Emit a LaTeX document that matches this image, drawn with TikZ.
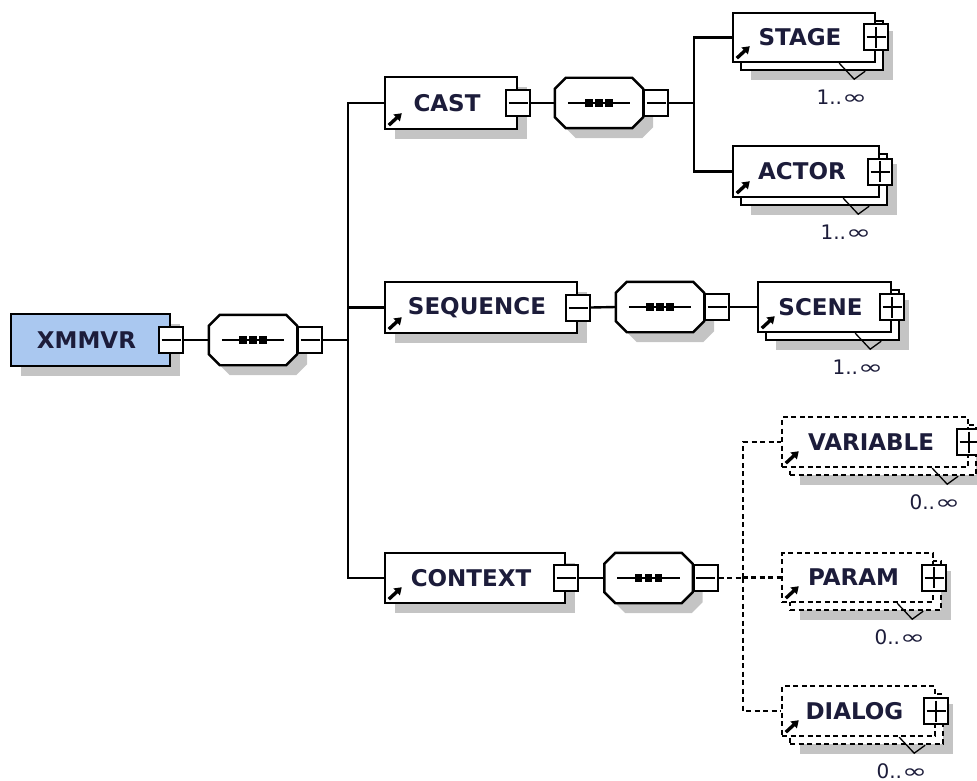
\documentclass[tikz,border=0pt]{standalone}
\usepackage{fontspec}
\setmainfont{DejaVu Sans}
\usetikzlibrary{shadows,arrows.meta,calc}

\definecolor{rootfill}{RGB}{170,200,240}
\definecolor{shadowgray}{RGB}{196,196,196}
\definecolor{labelink}{RGB}{28,28,58}

\tikzset{
  conn/.style={line width=2.4pt},
  opt/.style={dash pattern=on 5pt off 3.5pt},
  glyph/.style={line width=2pt},
  vmark/.style={line width=1.3pt},
  refarrow/.style={line width=3.4pt,-{Triangle[length=7pt,width=9pt]}},
  elembase/.style={rectangle,draw,line width=2.4pt,fill=white,inner sep=0pt,
    font=\fontsize{23}{27}\selectfont\bfseries,text=labelink,
    execute at end node={\kern8pt}},
  elem/.style={elembase,
    general shadow={shadow xshift=10pt,shadow yshift=-10pt,fill=shadowgray,draw=none}},
  many/.style={elembase,
    general shadow={shadow xshift=18pt,shadow yshift=-18pt,fill=shadowgray,draw=none},
    general shadow={shadow xshift=8pt,shadow yshift=-8pt,fill=white,draw=black,line width=2.4pt}},
  optmany/.style={elembase,opt,
    general shadow={shadow xshift=18pt,shadow yshift=-18pt,fill=shadowgray,draw=none},
    general shadow={shadow xshift=8pt,shadow yshift=-8pt,fill=white,draw=black,line width=2.4pt,dash pattern=on 5pt off 3.5pt}},
  root/.style={elem,fill=rootfill},
  seqbox/.style={rectangle,draw=none,minimum width=88pt,minimum height=50pt,inner sep=0pt},
  octline/.style={line width=2.4pt,fill=white,line join=miter},
  mbox/.style={rectangle,draw,fill=white,line width=2pt,minimum width=24pt,minimum height=26pt,inner sep=0pt},
  occ/.style={font=\fontsize{20}{24}\selectfont,text=labelink,inner sep=0pt},
}

% collapse / expand buttons
\newcommand\minusglyph[1]{\draw[glyph] ([xshift=3.5pt]#1.west) -- ([xshift=-3.5pt]#1.east);}
\newcommand\plusglyph[1]{\minusglyph{#1}\draw[glyph] ([yshift=-3.5pt]#1.north) -- ([yshift=3.5pt]#1.south);}
% outline of a sequence compositor around the named node
\newcommand\octoutline[1]{([xshift=11pt]#1.north west) -- ([xshift=-11pt]#1.north east)
  -- ([yshift=-11pt]#1.north east) -- ([yshift=11pt]#1.south east)
  -- ([xshift=-11pt]#1.south east) -- ([xshift=11pt]#1.south west)
  -- ([yshift=11pt]#1.south west) -- ([yshift=-11pt]#1.north west) -- cycle}
% sequence compositor: octagon with a line and three dots
\newcommand\seqglyph[1]{%
  \fill[shadowgray,transform canvas={shift={(10pt,-10pt)}}] \octoutline{#1};
  \draw[octline] \octoutline{#1};
  \draw[glyph] ([xshift=13pt]#1.west) -- ([xshift=-13pt]#1.east);
  \foreach \dx in {-10,0,10}{\fill ([xshift=\dx pt]#1.center) +(-3.8pt,-3.8pt) rectangle +(3.8pt,3.8pt);}}
% reference arrow in the lower left corner
\newcommand\refarrow[1]{\draw[refarrow] ([shift={(5,-5)}]#1.south west) -- ++(13,-12);}
% occurrence mark and label below a repeated element
\newcommand\maxocc[2]{%
  \draw[vmark] ([shift={(-37,0)}]#1.south east) -- ([shift={(-22,16)}]#1.south east) -- ([shift={(-11,8)}]#1.south east);
  \node[occ,anchor=base east] at ([shift={(-9,41)}]#1.south east) {#2};}

\begin{document}
\begin{tikzpicture}[x=1pt,y=-1pt]
\useasboundingbox (0,0) rectangle (977,781);

% root element
\node[root,minimum width=159pt,minimum height=52pt] (root) at (90.5,340) {XMMVR};
\node[mbox] (root-m) at (root.east) {}; \minusglyph{root-m}
\node[seqbox] (oct1) at (253,340) {}; \seqglyph{oct1}
\node[mbox,anchor=west] (oct1-m) at (oct1.east) {}; \minusglyph{oct1-m}
\coordinate (t1) at (348,340);

% CAST branch
\node[elem,minimum width=132pt,minimum height=52pt] (cast) at (451,103) {CAST};
\node[mbox] (cast-m) at (cast.east) {}; \minusglyph{cast-m}
\node[seqbox] (oct2) at (599,103) {}; \seqglyph{oct2}
\node[mbox,anchor=west] (oct2-m) at (oct2.east) {}; \minusglyph{oct2-m}
\coordinate (t2) at (694,103);

\node[many,minimum width=142pt,minimum height=49pt] (stage) at (804,37.5) {STAGE};
\node[mbox] (stage-p) at (stage.east) {}; \plusglyph{stage-p}
\node[many,minimum width=146pt,minimum height=51pt] (actor) at (806,171.5) {ACTOR};
\node[mbox] (actor-p) at (actor.east) {}; \plusglyph{actor-p}

% SEQUENCE branch
\node[elem,minimum width=192pt,minimum height=51pt] (sequence) at (481,307.5) {SEQUENCE};
\node[mbox] (sequence-m) at (sequence.east) {}; \minusglyph{sequence-m}
\node[seqbox] (oct3) at (660,307) {}; \seqglyph{oct3}
\node[mbox,anchor=west] (oct3-m) at (oct3.east) {}; \minusglyph{oct3-m}
\node[many,minimum width=133pt,minimum height=50pt] (scene) at (824.5,307) {SCENE};
\node[mbox] (scene-p) at (scene.east) {}; \plusglyph{scene-p}

% CONTEXT branch
\node[elem,minimum width=180pt,minimum height=50pt] (context) at (475,578) {CONTEXT};
\node[mbox] (context-m) at (context.east) {}; \minusglyph{context-m}
\node[seqbox] (oct4) at (648.5,578) {}; \seqglyph{oct4}
\node[mbox,anchor=west] (oct4-m) at (oct4.east) {}; \minusglyph{oct4-m}
\coordinate (t3) at (743,578);

\node[optmany,minimum width=186pt,minimum height=50pt] (variable) at (875,442) {VARIABLE};
\node[mbox] (variable-p) at (variable.east) {}; \plusglyph{variable-p}
\node[optmany,minimum width=151pt,minimum height=49pt] (param) at (857.5,577.5) {PARAM};
\node[mbox] (param-p) at (param.east) {}; \plusglyph{param-p}
\node[optmany,minimum width=153pt,minimum height=50pt] (dialog) at (858.5,711) {DIALOG};
\node[mbox] (dialog-p) at (dialog.east) {}; \plusglyph{dialog-p}

% reference arrows
\foreach \n in {cast,stage,actor,sequence,scene,context,variable,param,dialog}{\refarrow{\n}}

% occurrence marks
\maxocc{stage}{1..\scalebox{1.5}[1]{∞}}
\maxocc{actor}{1..\scalebox{1.5}[1]{∞}}
\maxocc{scene}{1..\scalebox{1.5}[1]{∞}}
\maxocc{variable}{0..\scalebox{1.5}[1]{∞}}
\maxocc{param}{0..\scalebox{1.5}[1]{∞}}
\maxocc{dialog}{0..\scalebox{1.5}[1]{∞}}

% connectors
\draw[conn] (root-m.east) -- (oct1.west);
\draw[conn] (oct1-m.east) -- (t1);
\draw[conn] (t1) |- (cast.west);
\draw[conn] (t1) |- (sequence.west);
\draw[conn] (t1) |- (context.west);
\draw[conn] (cast-m.east) -- (oct2.west);
\draw[conn] (oct2-m.east) -- (t2);
\draw[conn] (t2) |- (stage.west);
\draw[conn] (t2) |- (actor.west);
\draw[conn] (sequence-m.east) -- (oct3.west);
\draw[conn] (oct3-m.east) -- (scene.west);
\draw[conn] (context-m.east) -- (oct4.west);
\draw[conn,opt] (oct4-m.east) -- (t3);
\draw[conn,opt] (t3) |- (variable.west);
\draw[conn,opt] (t3) |- (param.west);
\draw[conn,opt] (t3) |- (dialog.west);
\end{tikzpicture}
\end{document}
